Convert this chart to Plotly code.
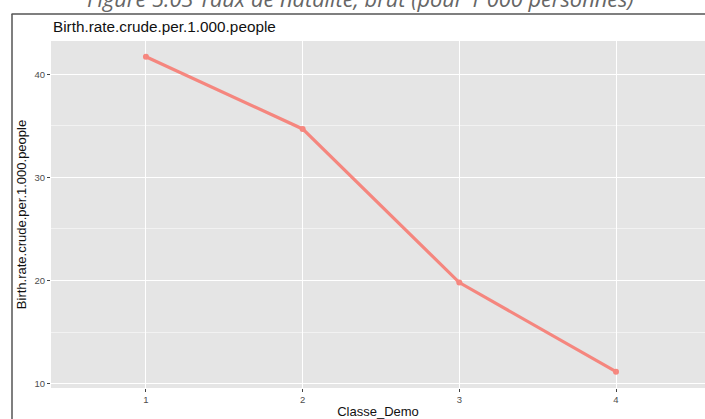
import plotly.graph_objects as go

# Data
classes = [1, 2, 3, 4]
birth_rate = [41.7, 34.7, 19.8, 11.15]
tick_vals_y = [10, 20, 30, 40]
tick_labels_x = ["1", "2", "3", "4"]

W, H = 705, 419
L, R, T, B = 51, 0, 41, 31

def px_x(p):
    return (p - L) / (W - L - R)

def px_y(q):
    return (H - B - q) / (H - T - B)

fig = go.Figure()
fig.add_trace(go.Scatter(
    x=classes, y=birth_rate, mode="lines+markers",
    line=dict(color="#F8766D", width=3.2),
    marker=dict(color="#F8766D", size=6),
    opacity=0.85,
    showlegend=False,
))

fig.update_layout(
    width=W, height=H,
    margin=dict(l=L, r=R, t=T, b=B),
    paper_bgcolor="white",
    plot_bgcolor="#E5E5E5",
    font=dict(family="Liberation Sans", color="#4D4D4D"),
    xaxis=dict(
        range=[0.394, 4.568], tickmode="array", tickvals=classes, ticktext=tick_labels_x,
        showgrid=True, gridcolor="white", gridwidth=1.3, zeroline=False,
        ticks="outside", ticklen=3, tickwidth=1, tickcolor="#444",
        tickfont=dict(size=9.5, color="#4D4D4D"),
        title=dict(text="Classe_Demo", font=dict(size=13, color="#111"), standoff=3),
    ),
    yaxis=dict(
        range=[9.57, 43.23], tickmode="array", tickvals=tick_vals_y,
        showgrid=True, gridcolor="white", gridwidth=1.3, zeroline=False,
        minor=dict(tickvals=[15, 25, 35], showgrid=True, gridcolor="#F2F2F2", gridwidth=0.7, ticks=""),
        ticks="outside", ticklen=3, tickwidth=1, tickcolor="#444",
        tickfont=dict(size=9.5, color="#4D4D4D"),
        title=dict(text="Birth.rate.crude.per.1.000.people", font=dict(size=13, color="#111"), standoff=4),
    ),
    annotations=[
        dict(text="Birth.rate.crude.per.1.000.people", xref="paper", yref="paper",
             x=px_x(51), y=px_y(27), xanchor="left", yanchor="middle", showarrow=False,
             font=dict(size=15.3, color="#111", family="Liberation Sans")),
        dict(text="<i>Figure 5.03 Taux de natalité, brut (pour 1 000 personnes)</i>",
             xref="paper", yref="paper", x=px_x(360), y=px_y(14.5), xanchor="center", yanchor="bottom",
             showarrow=False, font=dict(size=21.8, color="#666666", family="Open Sans")),
    ],
    shapes=[
        dict(type="line", xref="paper", yref="paper", x0=px_x(11.5), x1=px_x(705), y0=px_y(14), y1=px_y(14),
             line=dict(color="#555", width=1.5)),
        dict(type="line", xref="paper", yref="paper", x0=px_x(12), x1=px_x(12), y0=px_y(14), y1=px_y(419),
             line=dict(color="#555", width=1.5)),
    ],
)

fig.write_html("out.html", config={"displayModeBar": False},
               post_script="document.body.style.margin='0';document.body.style.padding='0';")
